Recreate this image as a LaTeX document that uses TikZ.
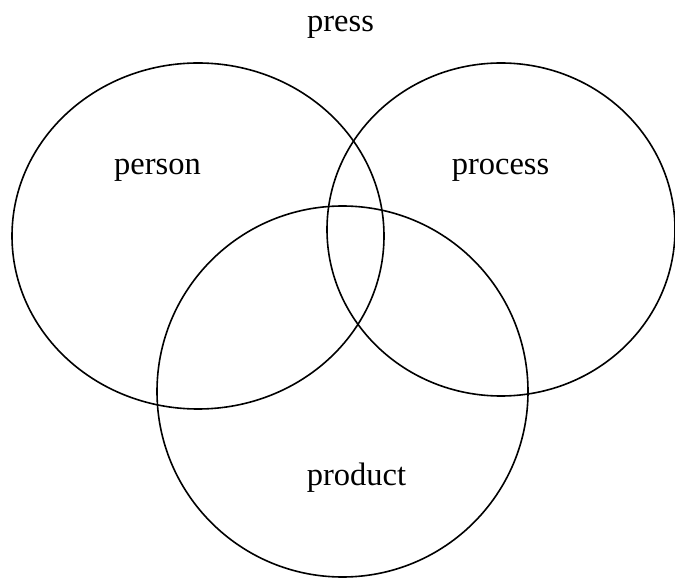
\documentclass[tikz,border=0pt]{standalone}
\usepackage{fontspec}
\setmainfont{Liberation Serif}
\begin{document}
\begin{tikzpicture}[x=1pt,y=1pt,
  setcirc/.style={draw=black,line width=1.6pt},
  lbl/.style={font=\fontsize{32.5}{38}\selectfont,anchor=base,inner sep=0pt}]
\useasboundingbox (0,0) rectangle (675,579);
\draw[setcirc] (198,343) ellipse [x radius=186, y radius=173];
\draw[setcirc] (501,349.5) ellipse [x radius=174, y radius=166.5];
\draw[setcirc] (342.5,187.5) ellipse [x radius=185.5, y radius=185.5];
\node[lbl] (press) at (340.5,547) {press};
\node[lbl] (person) at (157.5,404) {person};
\node[lbl] (process) at (500.5,404) {process};
\node[lbl] (product) at (356.5,94) {product};
\end{tikzpicture}
\end{document}
